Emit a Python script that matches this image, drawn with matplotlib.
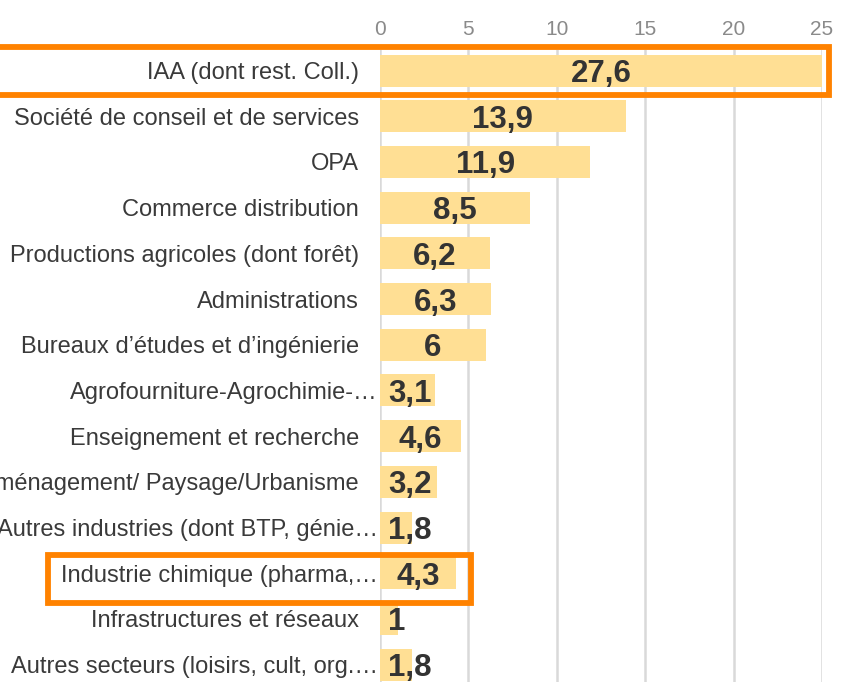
import matplotlib
matplotlib.use("Agg")
import matplotlib.pyplot as plt
from matplotlib.patches import Rectangle
from matplotlib.transforms import blended_transform_factory, offset_copy

plt.rcParams['font.family'] = ['Liberation Sans', 'DejaVu Sans']

categories = [
    "IAA (dont rest. Coll.)",
    "Société de conseil et de services",
    "OPA",
    "Commerce distribution",
    "Productions agricoles (dont forêt)",
    "Administrations",
    "Bureaux d’études et d’ingénierie",
    "Agrofourniture-Agrochimie-…",
    "Enseignement et recherche",
    "Aménagement/ Paysage/Urbanisme",
    "Autres industries (dont BTP, génie…",
    "Industrie chimique (pharma,…",
    "Infrastructures et réseaux",
    "Autres secteurs (loisirs, cult, org.…",
]
values = [27.6, 13.9, 11.9, 8.5, 6.2, 6.3, 6, 3.1, 4.6, 3.2, 1.8, 4.3, 1, 1.8]
value_labels = ["27,6", "13,9", "11,9", "8,5", "6,2", "6,3", "6", "3,1", "4,6", "3,2", "1,8", "4,3", "1", "1,8"]
xticks = [0, 5, 10, 15, 20, 25]

W, H = 843, 682
fig = plt.figure(figsize=(W / 100, H / 100), dpi=100)
ax = fig.add_axes([380 / W, 0, (822 - 380) / W, 1 - 50 / H])

ypos = list(range(len(categories)))
ax.barh(ypos, values, height=0.7, color="#FFDF94", zorder=2)
ax.set_xlim(0, 25)
ax.set_ylim(13.38, -0.45)
ax.set_xticks(xticks)
ax.xaxis.tick_top()
ax.tick_params(axis='x', length=0, pad=8, labelsize=15, labelcolor="#8a8a8a")
ax.set_yticks([])
ax.grid(axis='x', color="#d9d9d9", linewidth=1.8, zorder=0)
for s in ax.spines.values():
    s.set_visible(False)

# category labels
trans = blended_transform_factory(ax.transAxes, ax.transData)
for i, cat in enumerate(categories):
    off = -2.0 if cat.endswith("…") else -21.0
    tr = offset_copy(trans, fig=fig, x=off, y=0, units='dots')
    ax.text(0, i, cat, transform=tr, ha='right', va='center_baseline', fontsize=17,
            color="#3a3a3a", clip_on=False)

fig.canvas.draw()
renderer = fig.canvas.get_renderer()
inv = ax.transData.inverted()
x0_disp = ax.transData.transform((0, 0))[0]
for i, (v, lab) in enumerate(zip(values, value_labels)):
    vis = min(v, 25)
    t = ax.text(vis / 2, i, lab, ha='center', va='center_baseline', fontsize=22.5,
                fontweight='bold', color="#333333", zorder=3)
    bb = t.get_window_extent(renderer)
    minleft = x0_disp + 8
    if bb.x0 < minleft:
        shift = minleft - bb.x0
        newx = inv.transform((ax.transData.transform((vis / 2, i))[0] + shift, 0))[0]
        t.set_x(newx)

# orange highlight boxes (pixel coords of figure)
def box(x0, y0, x1, y1):
    r = Rectangle((x0 / W, 1 - y1 / H), (x1 - x0) / W, (y1 - y0) / H,
                  transform=fig.transFigure, fill=False, edgecolor="#FF8200",
                  linewidth=4.2, zorder=10, clip_on=False)
    fig.patches.append(r)

box(-10, 47, 829, 95)
box(48, 555, 471, 603)

fig.savefig("out.png", dpi=100)
